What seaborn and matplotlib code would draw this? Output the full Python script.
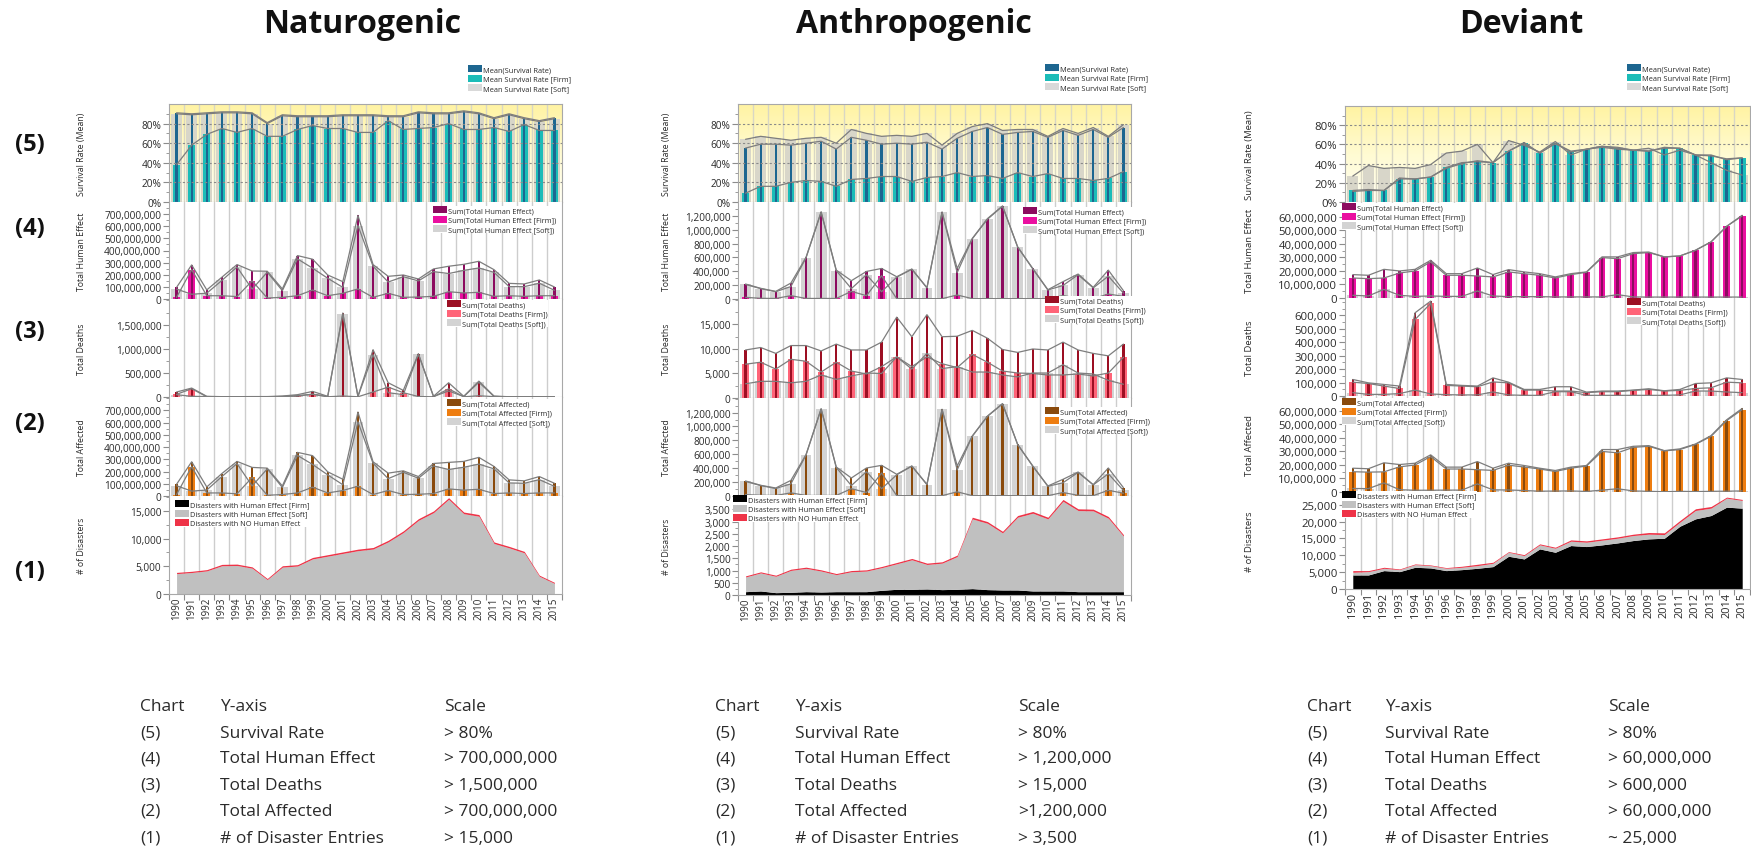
import numpy as np
import matplotlib
matplotlib.use('Agg')
import matplotlib.pyplot as plt
import seaborn as sns
from matplotlib.patches import Patch
from matplotlib.ticker import FixedLocator, FuncFormatter, AutoMinorLocator
from matplotlib.colors import LinearSegmentedColormap

sns.set_style('white')
plt.rcParams['font.family'] = ['Open Sans', 'DejaVu Sans']

# ---------------- data ----------------
years = [str(y) for y in range(1990, 2016)]

# Naturogenic
nat_surv_total = [91, 90, 91, 92, 92, 91, 81, 89, 88, 88, 88, 89, 89, 89, 88, 88, 92, 91, 91, 93, 91, 86, 90, 86, 83, 86]
nat_surv_firm = [38, 58, 69, 75, 71, 75, 67, 67, 74, 78, 75, 75, 71, 71, 83, 74, 75, 76, 80, 74, 74, 76, 72, 79, 73, 73]
nat_surv_soft = [90, 89, 90, 91, 91, 90, 80, 88, 87, 87, 87, 88, 88, 88, 87, 87, 91, 90, 90, 92, 90, 85, 89, 85, 82, 85]
nat_he_total = [96, 281, 75, 180, 284, 231, 229, 83, 358, 328, 198, 143, 689, 284, 187, 198, 165, 248, 270, 286, 311, 242, 129, 124, 157, 99]
nat_he_firm = [14, 242, 27, 27, 20, 150, 8, 14, 27, 74, 27, 47, 83, 14, 47, 14, 16, 22, 60, 50, 55, 22, 27, 22, 27, 27]
nat_he_soft = [82, 39, 48, 153, 264, 81, 221, 69, 331, 254, 171, 96, 606, 270, 140, 184, 149, 226, 210, 236, 256, 220, 102, 102, 130, 72]
nat_de_total = [103, 185, 14, 7, 7, 9, 9, 20, 48, 116, 14, 1740, 14, 980, 295, 137, 897, 14, 295, 14, 329, 20, 5, 5, 5, 5]
nat_de_firm = [55, 171, 5, 3, 3, 4, 4, 8, 30, 55, 5, 20, 5, 103, 205, 89, 10, 5, 170, 5, 25, 8, 2, 2, 2, 2]
nat_de_soft = [48, 14, 9, 4, 4, 5, 5, 12, 18, 61, 9, 1720, 9, 877, 90, 48, 887, 9, 125, 9, 304, 12, 3, 3, 3, 3]
nat_af_total = [96, 280, 74, 184, 283, 234, 228, 82, 357, 330, 198, 137, 687, 280, 187, 206, 159, 266, 275, 283, 316, 242, 132, 124, 159, 104]
nat_af_firm = [12, 240, 25, 25, 18, 152, 6, 12, 25, 72, 25, 45, 80, 12, 45, 12, 14, 20, 58, 48, 55, 20, 25, 20, 25, 25]
nat_af_soft = [84, 40, 49, 159, 265, 82, 222, 70, 332, 258, 173, 92, 607, 268, 142, 194, 145, 246, 217, 235, 261, 222, 107, 104, 134, 79]
nat_dis_firm = [40, 45, 45, 50, 50, 45, 30, 50, 60, 70, 80, 80, 85, 80, 75, 80, 70, 65, 60, 55, 50, 40, 35, 30, 20, 15]
nat_dis_soft = [3640, 3835, 4125, 5050, 5100, 4615, 2570, 4800, 4990, 6270, 6750, 7250, 7735, 8040, 9335, 11020, 13230, 14635, 17040, 14445, 14000, 9080, 8295, 7410, 3180, 1905]
nat_dis_none = [220, 220, 230, 250, 250, 240, 200, 250, 250, 260, 270, 270, 280, 280, 290, 300, 300, 300, 300, 300, 300, 280, 270, 260, 200, 180]

# Anthropogenic
ant_surv_total = [55, 59, 59, 58, 60, 62, 54, 66, 63, 59, 60, 59, 61, 54, 65, 72, 76, 69, 71, 72, 66, 73, 68, 74, 66, 76]
ant_surv_firm = [9, 16, 16, 20, 22, 21, 16, 23, 24, 26, 26, 21, 25, 26, 30, 26, 27, 24, 30, 26, 29, 24, 24, 22, 24, 31]
ant_surv_soft = [64, 67, 65, 63, 65, 66, 60, 74, 70, 67, 68, 67, 70, 58, 70, 77, 80, 73, 74, 74, 67, 75, 70, 76, 67, 79]
ant_he_total = [216, 154, 110, 230, 600, 1260, 417, 264, 398, 441, 321, 432, 163, 1257, 441, 873, 1160, 1343, 753, 441, 134, 250, 360, 168, 417, 120]
ant_he_firm = [24, 10, 8, 48, 8, 8, 8, 110, 48, 336, 5, 5, 5, 5, 58, 5, 5, 5, 5, 5, 5, 50, 10, 5, 72, 38]
ant_he_soft = [210, 150, 105, 180, 595, 1250, 410, 150, 350, 105, 315, 430, 160, 1250, 380, 870, 1150, 1340, 750, 435, 130, 195, 350, 160, 330, 85]
ant_de_total = [9.8, 10.3, 9.1, 10.7, 10.7, 9.6, 11.0, 9.8, 9.8, 11.4, 16.5, 12.5, 17.0, 12.5, 12.6, 13.8, 12.2, 9.9, 9.3, 10.0, 9.8, 11.4, 9.8, 9.1, 8.6, 11.0]
ant_de_firm = [6.9, 7.3, 5.9, 7.9, 7.5, 5.3, 7.3, 5.5, 4.9, 6.4, 8.4, 6.4, 8.4, 7.0, 6.2, 8.9, 7.3, 5.5, 5.1, 5.0, 4.7, 4.7, 4.9, 4.5, 5.1, 8.3]
ant_de_soft = [2.9, 3.4, 3.4, 3.1, 3.4, 4.7, 3.8, 4.5, 5.1, 5.0, 8.4, 5.9, 9.1, 6.0, 6.4, 5.3, 5.3, 4.7, 4.3, 5.1, 5.1, 6.8, 5.1, 4.9, 3.6, 2.8]
ant_af_total = [216, 154, 115, 225, 595, 1257, 417, 259, 403, 441, 312, 432, 168, 1247, 432, 863, 1150, 1330, 743, 432, 144, 240, 345, 163, 403, 120]
ant_af_firm = [20, 10, 8, 45, 8, 8, 8, 105, 50, 331, 5, 5, 5, 5, 60, 5, 5, 5, 5, 5, 5, 50, 10, 5, 82, 40]
ant_af_soft = [210, 150, 108, 175, 590, 1250, 410, 150, 350, 105, 305, 430, 163, 1245, 375, 860, 1145, 1325, 740, 430, 140, 190, 340, 160, 320, 80]
ant_dis_firm = [137, 165, 96, 110, 137, 123, 137, 137, 137, 192, 233, 233, 247, 220, 233, 261, 220, 206, 206, 165, 165, 165, 137, 137, 137, 137]
ant_dis_soft = [600, 737, 669, 896, 952, 856, 696, 814, 842, 924, 1042, 1207, 1001, 1083, 1339, 2851, 2714, 2335, 2975, 3181, 2947, 3669, 3318, 3304, 3003, 2272]
ant_dis_none = [45, 45, 45, 50, 50, 50, 45, 50, 50, 50, 55, 55, 55, 55, 60, 70, 70, 65, 70, 70, 70, 75, 70, 70, 70, 60]

# Deviant
dev_surv_total = [11, 12, 12, 25, 24, 26, 35, 40, 43, 41, 53, 62, 51, 61, 52, 55, 57, 55, 54, 53, 57, 56, 49, 49, 44, 46]
dev_surv_firm = [12, 13, 12, 24, 24, 26, 36, 41, 42, 41, 53, 61, 51, 61, 53, 55, 58, 56, 54, 53, 56, 56, 49, 48, 45, 46]
dev_surv_soft = [27, 38, 35, 36, 35, 39, 51, 53, 60, 41, 64, 59, 52, 63, 49, 55, 58, 57, 54, 56, 49, 54, 49, 41, 33, 28]
dev_he_total = [17.3, 16.8, 21.2, 20.0, 21.2, 27.9, 18.0, 18.0, 22.2, 17.3, 21.0, 19.3, 18.0, 15.6, 18.0, 19.3, 30.4, 30.4, 33.6, 34.0, 30.4, 31.1, 35.3, 41.5, 53.0, 61.2]
dev_he_firm = [14.8, 14.3, 14.8, 18.5, 20.0, 26.7, 16.8, 16.8, 16.3, 15.6, 19.3, 18.0, 16.8, 14.8, 17.3, 19.0, 29.9, 29.1, 32.8, 33.6, 30.4, 31.1, 35.3, 41.5, 53.0, 60.7]
dev_he_soft = [2.0, 1.5, 6.4, 2.0, 1.2, 1.5, 1.2, 1.2, 5.2, 1.5, 1.0, 1.0, 1.0, 0.8, 0.8, 0.8, 0.8, 2.5, 0.8, 0.7, 0.7, 0.7, 0.7, 0.7, 0.7, 0.7]
dev_de_total = [123, 98, 86, 74, 620, 707, 86, 79, 74, 135, 103, 49, 49, 69, 69, 29, 37, 37, 44, 54, 39, 49, 93, 98, 135, 123]
dev_de_firm = [103, 93, 74, 56, 570, 690, 79, 74, 69, 105, 98, 44, 44, 37, 37, 25, 32, 32, 42, 49, 37, 42, 56, 61, 103, 98]
dev_de_soft = [25, 12, 12, 18, 44, 15, 10, 8, 8, 30, 8, 5, 5, 32, 32, 5, 5, 5, 5, 5, 5, 8, 37, 37, 30, 25]
dev_af_total = [17.6, 17.2, 21.6, 20.3, 21.3, 27.5, 18.4, 18.4, 22.5, 17.6, 21.3, 19.6, 17.6, 15.9, 18.4, 19.6, 31.4, 31.4, 33.8, 34.3, 30.6, 31.9, 35.5, 41.7, 53.4, 61.8]
dev_af_firm = [15.0, 14.7, 14.9, 18.6, 20.0, 26.2, 17.0, 17.0, 16.5, 16.0, 19.8, 18.5, 17.0, 15.2, 17.6, 19.2, 30.0, 29.0, 33.0, 33.8, 30.4, 31.4, 35.2, 41.2, 52.8, 61.0]
dev_af_soft = [2.6, 2.5, 6.7, 1.7, 1.3, 1.3, 1.4, 1.4, 6.0, 1.6, 1.5, 1.1, 0.6, 0.7, 0.8, 0.4, 1.4, 2.4, 0.8, 0.5, 0.2, 0.5, 0.3, 0.5, 0.6, 0.8]
dev_dis_firm = [4170, 4170, 5460, 5160, 6450, 6250, 5460, 5750, 6150, 6650, 9720, 8930, 11900, 10910, 12900, 12600, 13100, 13690, 14390, 14880, 15080, 18650, 20830, 21820, 24300, 24010]
dev_dis_soft = [790, 990, 690, 590, 790, 690, 690, 700, 790, 990, 1180, 990, 1200, 1190, 1290, 1290, 1380, 1390, 1480, 1390, 1090, 1190, 2480, 2190, 2680, 2280]
dev_dis_none = [500, 300, 300, 200, 200, 200, 200, 300, 400, 300, 200, 280, 300, 300, 390, 400, 400, 400, 400, 500, 500, 500, 500, 490, 300, 300]

titles = ['Naturogenic', 'Anthropogenic', 'Deviant']
row_labels = ['(5)', '(4)', '(3)', '(2)', '(1)']
ylabels = ['Survival Rate (Mean)', 'Total Human Effect', 'Total Deaths', 'Total Affected', '# of Disasters']
leg_surv = ['Mean(Survival Rate)', 'Mean Survival Rate [Firm]', 'Mean Survival Rate [Soft]']
leg_he = ['Sum(Total Human Effect)', 'Sum(Total Human Effect [Firm])', 'Sum(Total Human Effect [Soft])']
leg_de = ['Sum(Total Deaths)', 'Sum(Total Deaths [Firm])', 'Sum(Total Deaths [Soft])']
leg_af = ['Sum(Total Affected)', 'Sum(Total Affected [Firm])', 'Sum(Total Affected [Soft])']
leg_dis = ['Disasters with Human Effect [Firm]', 'Disasters with Human Effect [Soft]', 'Disasters with NO Human Effect']

table_head = ['Chart', 'Y-axis', 'Scale']
table_chart = ['(5)', '(4)', '(3)', '(2)', '(1)']
table_axis = ['Survival Rate', 'Total Human Effect', 'Total Deaths', 'Total Affected', '# of Disaster Entries']
nat_scale = ['> 80%', '> 700,000,000', '> 1,500,000', '> 700,000,000', '> 15,000']
ant_scale = ['> 80%', '> 1,200,000', '> 15,000', '>1,200,000', '> 3,500']
dev_scale = ['> 80%', '> 60,000,000', '> 600,000', '> 60,000,000', '~ 25,000']

# ---------------- styles ----------------
C_SURV = ['#1d6690', '#1bbcb8', '#d8d6c9']
C_HE = ['#8c0b5f', '#ea0fa0', '#d3d3d3']
C_DE = ['#9c0f23', '#ff6478', '#d3d3d3']
C_AF = ['#8a4a0c', '#ee7d10', '#d3d3d3']
C_DIS = ['#000000', '#c0c0c0', '#ee3347']
LINE_C = '#7d7d7d'
TXT = '#2a2a2a'

W, H = 1751, 853
fig = plt.figure(figsize=(W / 100, H / 100), dpi=100)


def rect(x0, y0, x1, y1):
    return [x0 / W, 1 - y1 / H, (x1 - x0) / W, (y1 - y0) / H]


yellow = LinearSegmentedColormap.from_list('yl', ['#fffff4', '#fffbd2', '#fff3a2'])
fmt_int = FuncFormatter(lambda v, p: f'{int(round(v)):,}')
fmt_pct = FuncFormatter(lambda v, p: f'{int(round(v))}%')
xs = np.arange(len(years))


def draw_bars(ax, total, firm, soft, colors, scale):
    for vals, c, w in ((soft, colors[2], 0.72), (firm, colors[1], 0.44), (total, colors[0], 0.15)):
        sns.barplot(x=years, y=np.asarray(vals, float) * scale, ax=ax, color=c, width=w,
                    saturation=1, linewidth=0, errorbar=None)
    for vals in (soft, firm, total):
        ax.plot(xs, np.asarray(vals, float) * scale, color=LINE_C, lw=0.9, zorder=6)


def add_legend(labels, colors, x, y):
    handles = [Patch(facecolor=c, edgecolor='none') for c in colors]
    fig.legend(handles, labels, loc='upper left', bbox_to_anchor=(x / W, 1 - y / H),
               bbox_transform=fig.transFigure, fontsize=5.3, frameon=True, fancybox=False,
               framealpha=1, edgecolor='none', facecolor='white', handlelength=1.9,
               handleheight=1.05, handletextpad=0.1, labelspacing=0.2, borderpad=0.05,
               borderaxespad=0, labelcolor=TXT)


def style_axis(ax, top, major, fmt, fs, spine_top=False):
    ax.set_xlim(-0.5, 25.5)
    ax.set_ylim(0, top)
    ax.yaxis.set_major_locator(FixedLocator(major))
    ax.yaxis.set_minor_locator(AutoMinorLocator(2))
    ax.yaxis.set_major_formatter(fmt)
    ax.tick_params(axis='y', which='major', length=4, width=0.8, color='#8c8c8c',
                   labelsize=fs, labelcolor=TXT, pad=1.5, left=True)
    ax.tick_params(axis='y', which='minor', length=2, width=0.6, color='#8c8c8c', left=True)
    ax.tick_params(axis='x', which='both', bottom=False, labelbottom=False)
    ax.set_xlabel('')
    for s in ('left', 'bottom', 'right'):
        ax.spines[s].set_color('#a8a8a8')
        ax.spines[s].set_linewidth(0.8)
    ax.spines['top'].set_visible(spine_top)
    ax.spines['top'].set_color('#a8a8a8')


def vgrid(ax, color):
    for i in range(1, len(years)):
        ax.axvline(i - 0.5, color=color, lw=1.0, zorder=0.5)


columns = [
    dict(title=titles[0], tx=362, x0=169, x1=562, edges=[105, 203, 300, 398, 497, 595], ylx=86,
         tfs=7.3, lfs=6.3,
         surv=(nat_surv_total, nat_surv_firm, nat_surv_soft),
         he=(nat_he_total, nat_he_firm, nat_he_soft, 1e6, 800e6, np.arange(0, 701e6, 100e6)),
         de=(nat_de_total, nat_de_firm, nat_de_soft, 1e3, 2.03e6, [0, 500e3, 1000e3, 1500e3]),
         af=(nat_af_total, nat_af_firm, nat_af_soft, 1e6, 810e6, np.arange(0, 701e6, 100e6)),
         dis=(nat_dis_firm, nat_dis_soft, nat_dis_none, 17700, [0, 5000, 10000, 15000]),
         legs=[(468, 66), (433, 207), (447, 301), (447, 400), (175, 501)],
         table=(140, 220, 444), scale=nat_scale),
    dict(title=titles[1], tx=914, x0=738, x1=1131, edges=[105, 203, 300, 399, 497, 596], ylx=671,
         tfs=7.3, lfs=6.3,
         surv=(ant_surv_total, ant_surv_firm, ant_surv_soft),
         he=(ant_he_total, ant_he_firm, ant_he_soft, 1e3, 1.40e6, np.arange(0, 1.21e6, 200e3)),
         de=(ant_de_total, ant_de_firm, ant_de_soft, 1e3, 20200, [0, 5000, 10000, 15000]),
         af=(ant_af_total, ant_af_firm, ant_af_soft, 1e3, 1.41e6, np.arange(0, 1.21e6, 200e3)),
         dis=(ant_dis_firm, ant_dis_soft, ant_dis_none, 4050, np.arange(0, 3501, 500)),
         legs=[(1045, 65), (1023, 208), (1045, 297), (1045, 408), (733, 496)],
         table=(715, 795, 1018), scale=ant_scale),
    dict(title=titles[2], tx=1521, x0=1345, x1=1750, edges=[107, 203, 299, 397, 493, 590], ylx=1254,
         tfs=8.2, lfs=6.8,
         surv=(dev_surv_total, dev_surv_firm, dev_surv_soft),
         he=(dev_he_total, dev_he_firm, dev_he_soft, 1e6, 71e6, np.arange(0, 61e6, 10e6)),
         de=(dev_de_total, dev_de_firm, dev_de_soft, 1e3, 730e3, np.arange(0, 601e3, 100e3)),
         af=(dev_af_total, dev_af_firm, dev_af_soft, 1e6, 71e6, np.arange(0, 61e6, 10e6)),
         dis=(dev_dis_firm, dev_dis_soft, dev_dis_none, 28800, np.arange(0, 25001, 5000)),
         legs=[(1627, 65), (1342, 204), (1627, 299), (1342, 399), (1342, 492)],
         table=(1307, 1385, 1608), scale=dev_scale),
]

TABLE_FS = 12.5

for col in columns:
    x0, x1, e = col['x0'], col['x1'], col['edges']
    axes = [fig.add_axes(rect(x0, e[i], x1, e[i + 1])) for i in range(5)]
    lab_x = (col['ylx'] - x0) / (x1 - x0)

    # (5) survival rate
    ax = axes[0]
    ax.imshow(np.linspace(0, 1, 256).reshape(-1, 1), extent=(-0.5, 25.5, 0, 100), origin='lower',
              aspect='auto', cmap=yellow, zorder=0)
    vgrid(ax, '#d9d7c4')
    for g in (20, 40, 60, 80):
        ax.axhline(g, color='#8a8a8a', lw=0.8, ls=(0, (2, 2)), zorder=1.5)
    t, f, s = col['surv']
    draw_bars(ax, t, f, s, C_SURV, 1.0)
    style_axis(ax, 100, [0, 20, 40, 60, 80], fmt_pct, col['tfs'], spine_top=True)
    ax.yaxis.set_minor_locator(FixedLocator(np.arange(10, 100, 10)))

    # (4) human effect, (3) deaths, (2) affected
    for ax, key, colors in ((axes[1], 'he', C_HE), (axes[2], 'de', C_DE), (axes[3], 'af', C_AF)):
        t, f, s, sc, top, major = col[key]
        vgrid(ax, '#cdcdcd')
        draw_bars(ax, t, f, s, colors, sc)
        style_axis(ax, top, major, fmt_int, col['tfs'])

    # (1) number of disasters
    ax = axes[4]
    vgrid(ax, '#cdcdcd')
    fd, sd, nd, top, major = col['dis']
    ax.stackplot(xs, fd, sd, nd, colors=C_DIS, linewidth=0, zorder=2)
    style_axis(ax, top, major, fmt_int, col['tfs'])
    ax.set_xticks(xs)
    ax.set_xticklabels(years, rotation=90, fontsize=col['tfs'] - 0.3, color=TXT)
    ax.tick_params(axis='x', which='major', bottom=True, labelbottom=True, length=0, pad=2)
    ax.set_xticks(np.arange(-0.5, 26, 1), minor=True)
    ax.tick_params(axis='x', which='minor', bottom=True, length=4, width=0.8, color='#8c8c8c')

    for ax, yl in zip(axes, ylabels):
        ax.set_ylabel(yl, fontsize=col['lfs'], color=TXT)
        ax.yaxis.set_label_coords(lab_x, 0.5)

    for (lx, ly), labels, colors in zip(col['legs'], (leg_surv, leg_he, leg_de, leg_af, leg_dis),
                                       (['#1d6690', '#1bbcb8', '#d9d9d9'], C_HE, C_DE, C_AF, C_DIS)):
        add_legend(labels, colors, lx, ly)

    fig.text(col['tx'] / W, 1 - 33 / H, col['title'], ha='center', va='baseline',
             fontsize=23, fontweight='bold', color='#111111')

    # table
    cx, ax_x, sx = col['table']
    rows_y = [707, 734, 759, 786, 812, 839]
    for xx, txt in zip((cx, ax_x, sx), table_head):
        fig.text(xx / W, 1 - rows_y[0] / H, txt, fontsize=TABLE_FS, va='center', color=TXT)
    for ry, a, b, c in zip(rows_y[1:], table_chart, table_axis, col['scale']):
        fig.text(cx / W, 1 - ry / H, a, fontsize=TABLE_FS, va='center', color=TXT)
        fig.text(ax_x / W, 1 - ry / H, b, fontsize=TABLE_FS, va='center', color=TXT)
        fig.text(sx / W, 1 - ry / H, c, fontsize=TABLE_FS, va='center', color=TXT)

for lab, y in zip(row_labels, [145, 229, 332, 424, 572]):
    fig.text(30 / W, 1 - y / H, lab, ha='center', va='center', fontsize=17, fontweight='bold',
             color='#111111')

fig.savefig('out.png', dpi=100, facecolor='white')
